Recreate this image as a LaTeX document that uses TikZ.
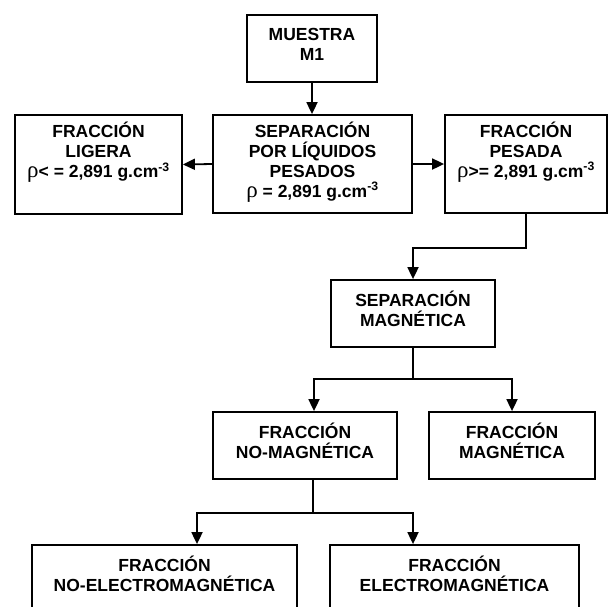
\documentclass[tikz,border=0pt]{standalone}
\usepackage{fontspec}
\setmainfont{Liberation Sans}
\newfontfamily\rhofont{Liberation Serif}
\usepackage{tikz}
\usetikzlibrary{arrows.meta,calc}

\newcommand{\densidad}[1]{{\rhofont\mdseries\fontsize{23}{20}\selectfont ρ}#1 2,891 g.cm\textsuperscript{-3}}

\tikzset{
  caja/.style={draw, line width=1.8pt, inner sep=0pt, align=center, text depth=9pt,
    font=\bfseries\fontsize{17.5}{20}\selectfont},
  linea/.style={line width=1.8pt},
  flecha/.style={line width=1.8pt, -{Triangle[length=12pt,width=11pt]}}
}

\begin{document}
\begin{tikzpicture}[x=1pt,y=-1pt]
\useasboundingbox (0,0) rectangle (609,606);

\node[caja, minimum width=130, minimum height=67] (mues) at (312,48.5) {MUESTRA\\M1};
\node[caja, minimum width=199, minimum height=98] (sep) at (312.5,164) {SEPARACIÓN\\POR LÍQUIDOS\\PESADOS\\\densidad{ =}};
\node[caja, minimum width=167, minimum height=99] (lig) at (98.5,164.5) {FRACCIÓN\\LIGERA\\\densidad{< =}\\ \mbox{}};
\node[caja, minimum width=162, minimum height=98] (pes) at (526,164) {FRACCIÓN\\PESADA\\\densidad{>=}\\ \mbox{}};
\node[caja, minimum width=164, minimum height=67] (sepmag) at (413,313.5) {SEPARACIÓN\\MAGNÉTICA};
\node[caja, minimum width=184, minimum height=67] (nomag) at (305,445.5) {FRACCIÓN\\NO-MAGNÉTICA};
\node[caja, minimum width=166, minimum height=67] (mag) at (512,445.5) {FRACCIÓN\\MAGNÉTICA};
\node[caja, minimum width=265, minimum height=67] (noel) at (164.5,578.5) {FRACCIÓN\\NO-ELECTROMAGNÉTICA};
\node[caja, minimum width=249, minimum height=67] (el) at (454.5,578.5) {FRACCIÓN\\ELECTROMAGNÉTICA};

\draw[flecha] (mues.south) -- (mues.south |- sep.north);
\draw[flecha] (sep.west) -- (lig.east);
\draw[flecha] (sep.east) -- (pes.west);
\draw[flecha] (pes.south) -- ++(0,34) -| (sepmag.north);

\draw[linea] (sepmag.south) -- ++(0,31) coordinate (r1);
\draw[flecha] (r1) -| ($(nomag.north)+(9,0)$);
\draw[flecha] (r1) -| (mag.north);

\draw[linea] ($(nomag.south)+(8,0)$) -- ++(0,33) coordinate (r2);
\draw[flecha] (r2) -| ($(noel.north)+(32.5,0)$);
\draw[flecha] (r2) -| ($(el.north)+(-41.5,0)$);
\end{tikzpicture}
\end{document}
